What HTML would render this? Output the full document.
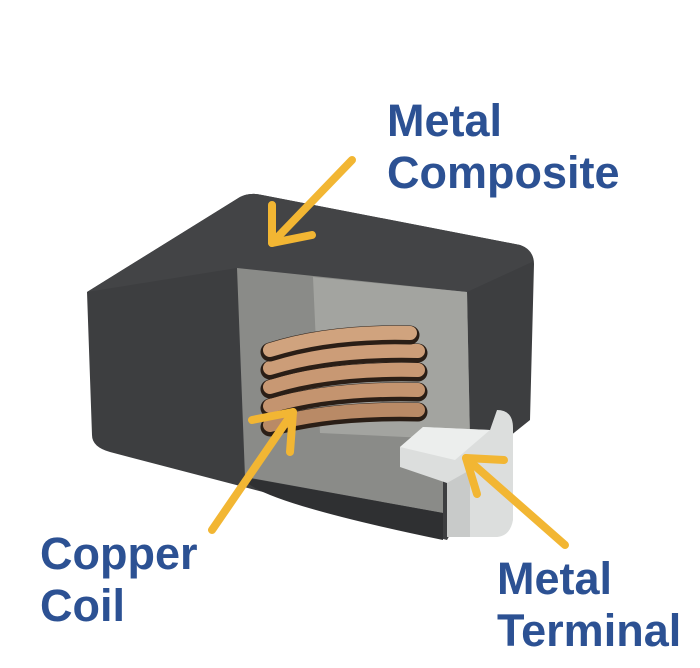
<!DOCTYPE html>
<html><head><style>
html,body{margin:0;padding:0;background:#fff;}
.wrap{position:relative;width:700px;height:668px;overflow:hidden;}
.t{position:absolute;font-family:"Liberation Sans",sans-serif;font-weight:bold;font-size:45px;line-height:52px;color:#2c5193;}
</style></head><body><div class="wrap">
<svg width="700" height="668" style="position:absolute;left:0;top:0">
<!-- dark body -->
<path d="M87,292 L240,197 Q250,192 262,195 L520,245 Q534,250 534,264 L530,420 L505,440 L447,540 L110,452 Q92,447 92,435 Z" fill="#3d3e40"/>
<path d="M87,292 L240,197 Q250,192 262,195 L520,245 Q534,250 532,262 L467,292 L237,268 Z" fill="#434446"/>
<!-- cutout -->
<path d="M237,268 L467,292 L470,440 L443,470 L443,513 L245,477 Z" fill="#8a8b88"/>
<path d="M313,277 L467,292 L470,440 L320,433 Z" fill="#a3a4a0"/>
<path d="M243,477 L443,513 L443,540 Q250,500 243,477 Z" fill="#2f3032"/>
<!-- coil -->
<g fill="none" stroke-linecap="round">
<path d="M270,427 Q330,410 418,412" stroke="#2a1e16" stroke-width="19"/>
<path d="M270,425 Q330,408 418,410" stroke="#b98a66" stroke-width="14"/>
<path d="M270,408 Q330,390 418,392" stroke="#2a1e16" stroke-width="19"/>
<path d="M270,406 Q330,388 418,390" stroke="#c4946f" stroke-width="14"/>
<path d="M270,389 Q330,370 418,372" stroke="#2a1e16" stroke-width="19"/>
<path d="M270,387 Q330,368 418,370" stroke="#c89873" stroke-width="14"/>
<path d="M270,370 Q330,351 418,353" stroke="#2a1e16" stroke-width="19"/>
<path d="M270,368 Q330,349 418,351" stroke="#cc9d78" stroke-width="14"/>
<path d="M270,352 Q330,333 410,335" stroke="#2a1e16" stroke-width="19"/>
<path d="M270,350 Q330,331 410,333" stroke="#d0a37e" stroke-width="14"/>
</g>
<!-- terminal -->
<path d="M400,447 L423,427 L490,430 L497,410 Q513,410 513,428 L513,520 Q510,537 495,537 L447,537 L447,483 L400,467 Z" fill="#dcdedd"/>
<path d="M400,447 L423,427 L490,430 L455,460 Z" fill="#eceeed"/>
<path d="M447,483 L447,537 L470,537 L470,470 Z" fill="#c8cac9"/>
<!-- arrows -->
<g stroke="#f2b633" stroke-width="8" fill="none" stroke-linecap="round" stroke-linejoin="round">
<path d="M352,160 L272,243"/><path d="M272,205 L272,243 L312,235"/>
<path d="M212,530 L293,412"/><path d="M252,420 L293,412 L290,452"/>
<path d="M565,545 L466,458"/><path d="M504,460 L466,458 L477,494"/>
</g>
</svg>
<div class="t" style="left:387px;top:95px">Metal<br>Composite</div>
<div class="t" style="left:40px;top:528px">Copper<br>Coil</div>
<div class="t" style="left:497px;top:553px">Metal<br>Terminal</div>
</div></body></html>
